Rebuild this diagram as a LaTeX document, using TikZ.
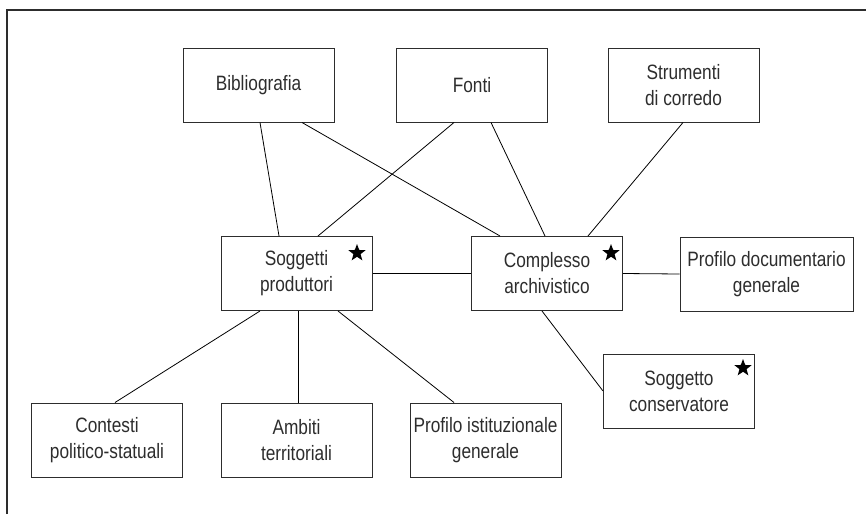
\documentclass[tikz,border=0pt]{standalone}
\usepackage{fontspec}
\setmainfont{Liberation Sans}[FakeStretch=0.83]
\usetikzlibrary{shapes.geometric}
\definecolor{ink}{RGB}{45,45,45}
\begin{document}
\begin{tikzpicture}[x=1pt,y=-1pt,
  entity/.style={draw=ink, line width=1pt, rectangle, inner sep=0pt,
    minimum width=151pt, minimum height=74pt, align=center, text=ink,
    font=\fontsize{20.8}{26}\selectfont},
  link/.style={draw=black, line width=0.8pt},
  frame/.style={draw=ink, line width=1.2pt},
  keymark/.style={star, star points=5, star point ratio=2.4, fill=black,
    draw=none, minimum size=18pt, inner sep=0pt}]
  \useasboundingbox (0,0) rectangle (866,514);
  % open frame: top and left edges only
  \draw[frame] (7,514) -- (7,10) -- (866,10);

  % upper row
  \node[entity] (bib)   at (258.5,85) {Bibliografia};
  \node[entity] (fonti) at (472,85)   {Fonti};
  \node[entity] (strum) at (683.5,85) {Strumenti\\di corredo};

  % middle row
  \node[entity] (sogg)    at (296.5,273.5) {Soggetti\\produttori};
  \node[entity] (compl)   at (547,273.5)   {Complesso\\archivistico};
  \node[entity, minimum width=173pt] (profdoc) at (766.5,274) {Profilo documentario\\generale};
  \node[entity] (cons)    at (679,391)     {Soggetto\\conservatore};

  % lower row
  \node[entity] (cont)    at (107,440)   {Contesti\\politico-statuali};
  \node[entity] (ambiti)  at (296.5,440) {Ambiti\\territoriali};
  \node[entity] (profist) at (485.5,440) {Profilo istituzionale\\generale};

  % key markers
  \node[keymark] (k1) at (357,253) {};
  \node[keymark] (k2) at (611,253) {};
  \node[keymark] (k3) at (743,368) {};

  % connectors
  \draw[link] ([xshift=1.5pt]bib.south)   -- ([xshift=-17.5pt]sogg.north);
  \draw[link] ([xshift=43.5pt]bib.south)  -- ([xshift=-47pt]compl.north);
  \draw[link] ([xshift=-18pt]fonti.south) -- ([xshift=21.5pt]sogg.north);
  \draw[link] ([xshift=19pt]fonti.south)  -- ([xshift=-2pt]compl.north);
  \draw[link] ([xshift=-0.5pt]strum.south) -- ([xshift=41pt]compl.north);
  \draw[link] (sogg.east) -- (compl.west);
  \draw[link] (compl.east) -- (profdoc.west);
  \draw[link] ([xshift=-5pt]compl.south) -- (cons.west);
  \draw[link] ([xshift=-36.5pt]sogg.south) -- ([xshift=8pt]cont.north);
  \draw[link] ([xshift=1.5pt]sogg.south) -- ([xshift=1.5pt]ambiti.north);
  \draw[link] ([xshift=41.5pt]sogg.south) -- ([xshift=-31.5pt]profist.north);
\end{tikzpicture}
\end{document}
